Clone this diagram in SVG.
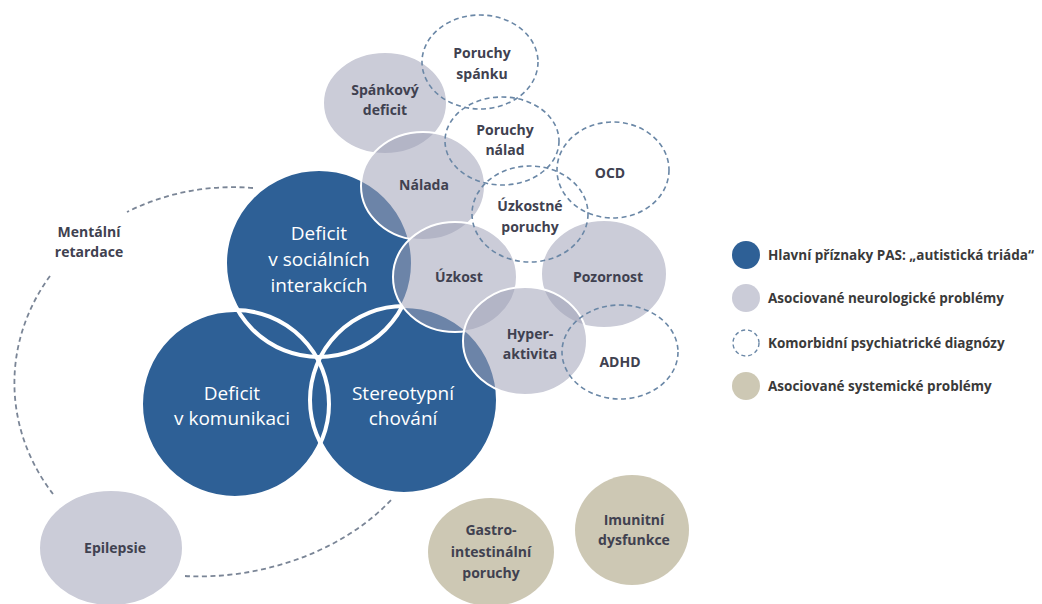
<svg xmlns="http://www.w3.org/2000/svg" width="1042" height="604" viewBox="0 0 1042 604">
<style>
.blue{fill:#2e6096;}
.bline{fill:none;stroke:#ffffff;stroke-width:4;}
.grey{fill:#a0a2b8;fill-opacity:0.55;stroke:#ffffff;stroke-width:2;}
.tan{fill:#cdc8b4;}
.dash{fill:none;stroke:#6a87a6;stroke-width:1.6;stroke-dasharray:5 3.5;}
.arc{fill:none;stroke:#7a8596;stroke-width:1.8;stroke-dasharray:5 3.5;}
.wt{font-family:"Open Sans","Liberation Sans",sans-serif;font-size:19px;fill:#ffffff;text-anchor:middle;}
.gt{font-family:"Open Sans","Liberation Sans",sans-serif;font-size:14px;font-weight:bold;fill:#404150;text-anchor:middle;}
.lt{font-family:"Open Sans","Liberation Sans",sans-serif;font-size:13.5px;font-weight:bold;fill:#3a3a3a;}
</style>
<rect width="1042" height="604" fill="#ffffff"/>
<g id="connectors">
<path class="arc" d="M 253 188 A 217 195 0 0 0 127 212"/>
<path class="arc" d="M 50 276 A 217 195 0 0 0 53 494"/>
<path class="arc" d="M 185 576 C 255 580 340 555 392 499"/>
</g>
<g id="triad">
<circle class="blue" cx="319" cy="263" r="94"/>
<circle class="blue" cx="235" cy="404" r="94"/>
<circle class="blue" cx="404" cy="400" r="94"/>
<circle class="bline" cx="319" cy="263" r="94"/>
<circle class="bline" cx="235" cy="404" r="94"/>
<circle class="bline" cx="404" cy="400" r="94"/>
</g>
<g id="n-social"><text class="wt" x="319" y="240">Deficit</text><text class="wt" x="319" y="266">v sociálních</text><text class="wt" x="319" y="292">interakcích</text></g>
<g id="n-komunikace"><text class="wt" x="232" y="400">Deficit</text><text class="wt" x="232" y="425">v komunikaci</text></g>
<g id="n-stereotyp"><text class="wt" x="403" y="400">Stereotypní</text><text class="wt" x="403" y="425">chování</text></g>
<g id="n-spankovy"><ellipse class="grey" cx="385" cy="103" rx="62" ry="51"/><text class="gt" x="385" y="95">Spánkový</text><text class="gt" x="385" y="115">deficit</text></g>
<g id="n-nalada"><ellipse class="grey" cx="423" cy="186" rx="62" ry="54"/><text class="gt" x="424" y="190">Nálada</text></g>
<g id="n-uzkost"><ellipse class="grey" cx="455" cy="277" rx="62" ry="55"/><text class="gt" x="459" y="282">Úzkost</text></g>
<g id="n-pozornost"><ellipse class="grey" cx="604" cy="274" rx="63" ry="54"/><text class="gt" x="608" y="282">Pozornost</text></g>
<g id="n-hyper"><ellipse class="grey" cx="525" cy="341" rx="62" ry="54"/><text class="gt" x="530" y="339">Hyper-</text><text class="gt" x="530" y="359">aktivita</text></g>
<g id="n-epilepsie"><ellipse class="grey" cx="111" cy="548" rx="72" ry="58"/><text class="gt" x="115" y="553">Epilepsie</text></g>
<g id="n-gastro"><ellipse class="tan" cx="491" cy="552" rx="63" ry="54"/><text class="gt" x="491" y="535">Gastro-</text><text class="gt" x="491" y="557">intestinální</text><text class="gt" x="491" y="578">poruchy</text></g>
<g id="n-imunitni"><ellipse class="tan" cx="632" cy="530" rx="57" ry="55"/><text class="gt" x="634" y="525">Imunitní</text><text class="gt" x="634" y="545">dysfunkce</text></g>
<g id="n-poruchy-spanku"><ellipse class="dash" cx="480" cy="62" rx="58" ry="47"/><text class="gt" x="482" y="58">Poruchy</text><text class="gt" x="482" y="79">spánku</text></g>
<g id="n-poruchy-nalad"><ellipse class="dash" cx="502" cy="141" rx="57" ry="44"/><text class="gt" x="505" y="135">Poruchy</text><text class="gt" x="505" y="155">nálad</text></g>
<g id="n-ocd"><ellipse class="dash" cx="613" cy="170" rx="56" ry="48"/><text class="gt" x="610" y="178">OCD</text></g>
<g id="n-uzkostne"><ellipse class="dash" cx="530" cy="214" rx="58" ry="48"/><text class="gt" x="530" y="211">Úzkostné</text><text class="gt" x="530" y="232">poruchy</text></g>
<g id="n-adhd"><ellipse class="dash" cx="620" cy="352" rx="58" ry="47"/><text class="gt" x="620" y="367">ADHD</text></g>
<g id="n-mentalni"><text class="gt" x="89" y="237">Mentální</text><text class="gt" x="89" y="257">retardace</text></g>
<g id="legend">
<circle class="blue" cx="746" cy="255" r="14"/>
<text class="lt" x="768" y="260">Hlavní příznaky PAS: „autistická triáda“</text>
<circle cx="746" cy="298" r="14" fill="#cbccd8"/>
<text class="lt" x="768" y="303">Asociované neurologické problémy</text>
<circle cx="746" cy="343" r="13" fill="none" stroke="#6a87a6" stroke-width="1.4" stroke-dasharray="4 3"/>
<text class="lt" x="768" y="348">Komorbidní psychiatrické diagnózy</text>
<circle class="tan" cx="746" cy="386" r="14"/>
<text class="lt" x="768" y="391">Asociované systemické problémy</text>
</g>
</svg>
